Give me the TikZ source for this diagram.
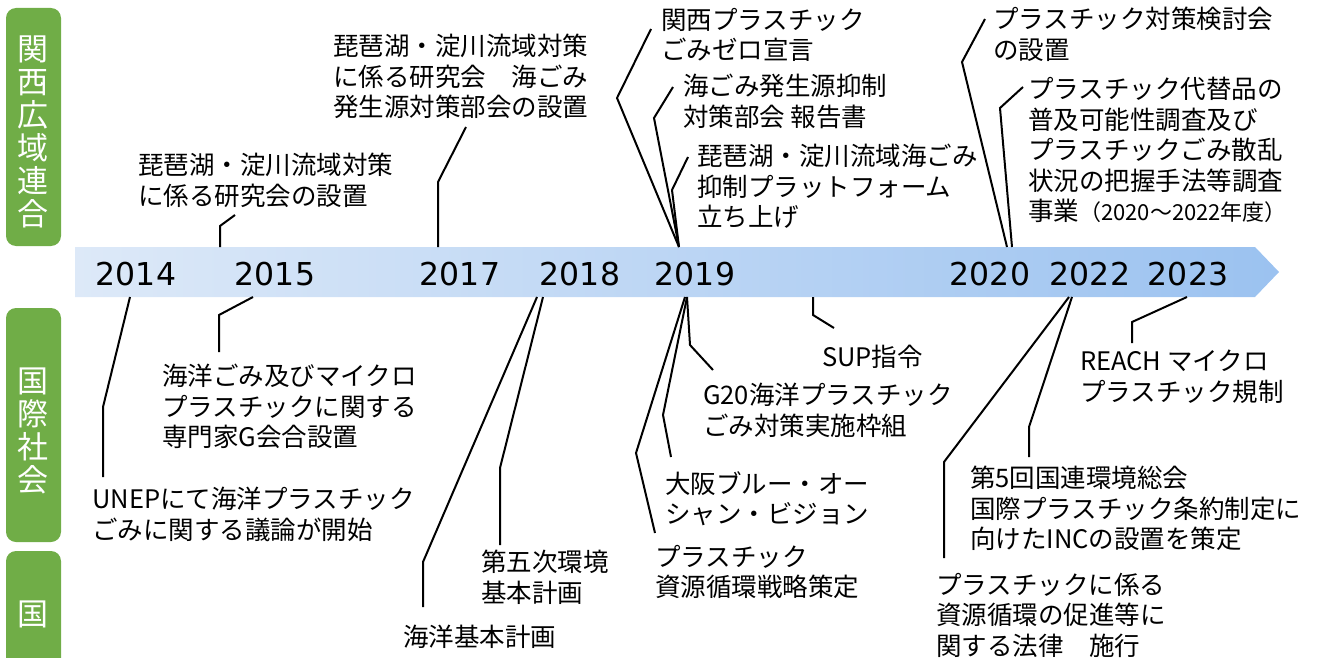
\documentclass[tikz,border=0pt]{standalone}
\usepackage{fontspec}
\setmainfont{Noto Sans CJK JP}
\newfontfamily\yearfont{DejaVu Sans}
\definecolor{boxgreen}{HTML}{70AD47}
\definecolor{bandL}{HTML}{DDE9F8}
\definecolor{bandR}{HTML}{9BC2F0}
\begin{document}
\begin{tikzpicture}[x=1pt,y=-1pt,
  conn/.style={draw=black, line width=2pt, line join=miter},
  lab/.style={anchor=north west, inner sep=0pt, align=left, font=\fontsize{25.5}{30.5}\selectfont},
  yr/.style={anchor=center, inner sep=0pt, font=\yearfont\fontsize{31.5}{33}\selectfont},
  side/.style={fill=boxgreen, rounded corners=10pt},
  sidetxt/.style={text=white, align=center, inner sep=0pt, font=\fontsize{31}{33}\selectfont}]
\useasboundingbox (0,0) rectangle (1330,658);
% side boxes
\path[side] (6,8) rectangle (61,246);
\path[side] (6,308) rectangle (61,542);
\path[side] (6,551) rectangle (61,680);
\node[sidetxt] (s1) at (33,132) {関\\西\\広\\域\\連\\合};
\node[sidetxt] (s2) at (33,431) {国\\際\\社\\会};
\node[sidetxt] (s3) at (33,614) {国};
% band
\shade[left color=bandL, right color=bandR] (75,247) -- (1255,247) -- (1279,272) -- (1255,297) -- (75,297) -- cycle;
% years
\node[yr] (y14) at (136,274) {2014};
\node[yr] (y15) at (275,274) {2015};
\node[yr] (y17) at (460,274) {2017};
\node[yr] (y18) at (580,274) {2018};
\node[yr] (y19) at (695,274) {2019};
\node[yr] (y20) at (990,274) {2020};
\node[yr] (y22) at (1090,274) {2022};
\node[yr] (y23) at (1188,274) {2023};
% anchor coordinates on band
\coordinate (a15) at (220,247);
\coordinate (a17) at (438,247);
\coordinate (a19) at (679,247);
\coordinate (a20a) at (1007,247);
\coordinate (a20b) at (1012,247);
\coordinate (b14) at (130,297);
\coordinate (b15) at (253,297);
\coordinate (b18a) at (537,297);
\coordinate (b18b) at (543,297);
\coordinate (b19a) at (685,297);
\coordinate (b19b) at (687,297);
\coordinate (bsup) at (813,297);
\coordinate (b22a) at (1069,297);
\coordinate (b22b) at (1072,297);
\coordinate (b23) at (1187,297);
% top labels
\node[lab] (t1) at (138,153) {琵琶湖・淀川流域対策\\に係る研究会の設置};
\node[lab] (t2) at (333,34) {琵琶湖・淀川流域対策\\に係る研究会　海ごみ\\発生源対策部会の設置};
\node[lab] (t3) at (661,8) {関西プラスチック\\ごみゼロ宣言};
\node[lab] (t4) at (683,74) {海ごみ発生源抑制\\対策部会 報告書};
\node[lab] (t5) at (697,144) {琵琶湖・淀川流域海ごみ\\抑制プラットフォーム\\立ち上げ};
\node[lab] (t6) at (993,7) {プラスチック対策検討会\\の設置};
\node[lab] (t7) at (1028,77) {プラスチック代替品の\\普及可能性調査及び\\プラスチックごみ散乱\\状況の把握手法等調査\\事業{\fontsize{22}{22}\selectfont （2020～2022年度）}};
% bottom labels
\node[lab] (m1) at (92,487) {UNEPにて海洋プラスチック\\ごみに関する議論が開始};
\node[lab] (m2) at (162,364) {海洋ごみ及びマイクロ\\プラスチックに関する\\専門家G会合設置};
\node[lab] (m3) at (403,625) {海洋基本計画};
\node[lab] (m4) at (481,550) {第五次環境\\基本計画};
\node[lab] (m5) at (655,545) {プラスチック\\資源循環戦略策定};
\node[lab] (m6) at (665,471) {大阪ブルー・オー\\シャン・ビジョン};
\node[lab] (m7) at (703,383) {G20海洋プラスチック\\ごみ対策実施枠組};
\node[lab] (m8) at (822,345) {SUP指令};
\node[lab] (m9) at (970,466) {第5回国連環境総会\\国際プラスチック条約制定に\\向けたINCの設置を策定};
\node[lab] (m10) at (936,573) {プラスチックに係る\\資源循環の促進等に\\関する法律　施行};
\node[lab] (m11) at (1080,350) {REACH マイクロ\\プラスチック規制};
% end coordinates
\coordinate (e1) at (235,215);
\coordinate (e2) at (466,127);
\coordinate (e3) at (651,29);
\coordinate (e4) at (673,87);
\coordinate (e5) at (688,157);
\coordinate (e6) at (985,19);
\coordinate (e7) at (1023,87);
\coordinate (f1) at (103,477);
\coordinate (f2) at (219,352);
\coordinate (f3) at (423,607);
\coordinate (f4) at (500,545);
\coordinate (f5) at (655,533);
\coordinate (f6) at (671,457);
\coordinate (f7) at (713,370);
\coordinate (f8) at (834,328);
\coordinate (f9) at (944,558);
\coordinate (f10) at (1029,457);
\coordinate (f11) at (1132,343);
% connectors top
\draw[conn] (a15) -- (220,226) -- (e1);
\draw[conn] (a17) -- (438,182) -- (e2);
\draw[conn] (a19) -- (617,98) -- (e3);
\draw[conn] (a19) -- (654,118) -- (e4);
\draw[conn] (a19) -- (672,190) -- (e5);
\draw[conn] (a20a) -- (962,62) -- (e6);
\draw[conn] (a20b) -- (1000,108) -- (e7);
% connectors bottom
\draw[conn] (b14) -- (103,407) -- (f1);
\draw[conn] (b15) -- (219,315) -- (f2);
\draw[conn] (b18a) -- (423,562) -- (f3);
\draw[conn] (b18b) -- (500,468) -- (f4);
\draw[conn] (b19a) -- (636,453) -- (f5);
\draw[conn] (b19b) -- (663,415) -- (f6);
\draw[conn] (b19b) -- (690,345) -- (f7);
\draw[conn] (bsup) -- (813,315) -- (f8);
\draw[conn] (b22a) -- (944,462) -- (f9);
\draw[conn] (b22b) -- (1029,427) -- (f10);
\draw[conn] (b23) -- (1132,322) -- (f11);
\end{tikzpicture}
\end{document}
